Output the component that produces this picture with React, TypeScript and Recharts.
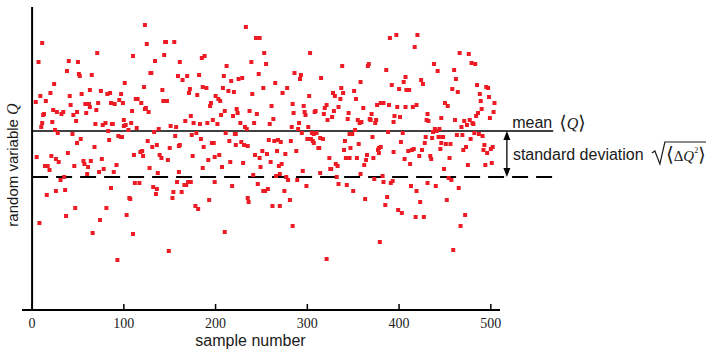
import { ScatterChart, Scatter, XAxis, YAxis, ReferenceLine } from 'recharts'

// sample number of each plotted point
const sampleNo = [
  123, 11, 125, 71, 110, 7, 40, 50, 38, 51, 52, 65, 129, 24, 101, 122, 9, 20, 41, 54,
  63, 75, 82, 85, 97, 4, 15, 42, 58, 62, 63, 72, 86, 90, 95, 99, 113, 115, 119, 123,
  124, 127, 23, 27, 13, 12, 32, 34, 45, 49, 59, 70, 109, 48, 22, 11, 10, 69, 77, 80,
  87, 88, 100, 100, 102, 108, 114, 25, 28, 83, 44, 94, 97, 98, 105, 53, 49, 84, 126, 68,
  5, 21, 26, 29, 39, 14, 17, 19, 46, 56, 57, 61, 64, 76, 60, 73, 78, 89, 92, 111,
  118, 120, 121, 128, 35, 31, 112, 117, 16, 26, 36, 86, 106, 107, 47, 81, 37, 74, 103, 8,
  66, 110, 93,
  233, 145, 146, 155, 244, 248, 253, 144, 161, 134, 185, 188, 212, 239, 130, 159, 164, 169, 182, 209,
  217, 225, 229, 247, 142, 172, 171, 180, 186, 190, 208, 214, 220, 240, 252, 200, 203, 205, 143, 147,
  195, 194, 223, 224, 210, 206, 219, 237, 245, 173, 167, 176, 183, 191, 197, 202, 227, 242, 151, 157,
  138, 133, 232, 234, 211, 221, 222, 179, 156, 174, 184, 136, 161, 198, 215, 222, 228, 231, 131, 150,
  160, 187, 196, 235, 139, 141, 148, 175, 192, 199, 204, 216, 207, 186, 230, 243, 248, 251, 249, 137,
  160, 241, 158, 166, 168, 170, 173, 199, 218, 246, 252, 132, 136, 135, 154, 163, 153, 193, 235, 236,
  178, 181, 210, 149,
  303, 255, 338, 367, 366, 286, 293, 292, 315, 265, 278, 273, 302, 337, 328, 330, 339, 351, 358, 336,
  353, 261, 284, 296, 321, 319, 334, 361, 376, 285, 297, 298, 309, 308, 318, 329, 345, 370, 327, 322,
  344, 355, 357, 359, 368, 369, 375, 374, 263, 291, 259, 283, 301, 290, 352, 294, 305, 307, 310, 346,
  349, 258, 264, 268, 271, 282, 300, 304, 306, 307, 314, 317, 341, 371, 356, 312, 313, 256, 267, 276,
  288, 260, 269, 272, 324, 340, 347, 342, 346, 354, 365, 372, 364, 362, 377, 378, 331, 333, 325, 326,
  314, 295, 266, 270, 277, 279, 289, 332, 358, 373, 299, 334, 343, 254, 257, 275, 350, 281, 363, 262,
  270, 284, 379, 321,
  390, 397, 420, 417, 466, 476, 438, 479, 483, 386, 442, 460, 407, 424, 462, 405, 426, 392, 485, 495,
  497, 400, 408, 411, 458, 464, 488, 498, 380, 383, 389, 398, 407, 415, 419, 450, 453, 489, 504, 490,
  486, 503, 431, 395, 401, 484, 446, 394, 430, 432, 461, 471, 477, 499, 480, 481, 474, 468, 439, 444,
  437, 441, 388, 404, 463, 469, 482, 487, 491, 429, 436, 443, 447, 448, 478, 402, 428, 446, 451, 456,
  493, 378, 380, 394, 410, 414, 416, 425, 445, 470, 473, 492, 496, 500, 502, 422, 434, 435, 455, 406,
  412, 475, 494, 501, 449, 382, 383, 393, 391, 454, 457, 431, 413, 440, 465, 419, 387, 385, 423, 452,
  399, 403, 418, 427, 472, 467, 459,
]

// random variable Q (arbitrary units) for each sample above
const qValue = [
  285, 267, 266, 257, 254, 248, 249, 248, 239, 236, 234, 235, 237, 226, 227, 223, 214, 217, 214, 216,
  220, 219, 216, 217, 216, 208, 209, 205, 206, 206, 203, 207, 207, 206, 210, 207, 211, 211, 207, 201,
  202, 198, 200, 198, 196, 195, 196, 198, 195, 198, 197, 200, 199, 189, 188, 187, 183, 186, 185, 187,
  186, 186, 190, 184, 185, 187, 182, 180, 177, 179, 176, 174, 173, 173, 180, 171, 167, 170, 169, 163,
  153, 154, 151, 148, 157, 144, 144, 140, 144, 149, 146, 143, 149, 151, 136, 138, 141, 138, 145, 155,
  158, 159, 154, 142, 133, 130, 127, 127, 115, 119, 120, 122, 112, 111, 102, 102, 94, 90, 95, 87,
  77, 76, 50,
  283, 268, 268, 268, 272, 272, 257, 255, 248, 249, 252, 254, 244, 248, 237, 234, 230, 234, 235, 234,
  229, 231, 232, 236, 220, 221, 217, 215, 223, 222, 222, 219, 218, 216, 222, 214, 211, 209, 209, 209,
  207, 204, 201, 197, 199, 195, 194, 199, 196, 194, 189, 187, 186, 187, 190, 186, 187, 187, 184, 183,
  181, 178, 183, 181, 177, 176, 176, 177, 174, 175, 171, 165, 165, 167, 169, 165, 168, 165, 163, 162,
  164, 163, 167, 164, 155, 152, 150, 154, 150, 153, 155, 148, 143, 142, 147, 155, 152, 159, 143, 137,
  138, 135, 128, 125, 125, 128, 128, 128, 124, 126, 119, 123, 121, 116, 118, 118, 112, 110, 112, 108,
  104, 101, 78, 59,
  257, 246, 244, 246, 244, 237, 235, 231, 232, 227, 222, 217, 214, 222, 217, 214, 217, 219, 228, 211,
  211, 204, 206, 204, 205, 202, 203, 202, 205, 197, 198, 195, 199, 198, 196, 199, 197, 196, 193, 190,
  191, 190, 187, 188, 191, 190, 190, 187, 191, 187, 186, 183, 183, 181, 180, 177, 177, 176, 177, 176,
  176, 170, 169, 170, 168, 169, 171, 171, 169, 167, 172, 171, 169, 173, 166, 162, 162, 156, 159, 156,
  159, 148, 144, 146, 152, 160, 162, 152, 152, 152, 155, 152, 150, 145, 160, 157, 146, 144, 141, 141,
  137, 139, 134, 136, 133, 130, 130, 133, 136, 131, 124, 126, 125, 119, 121, 119, 119, 110, 111, 104,
  104, 84, 68, 51,
  272, 275, 275, 263, 257, 256, 246, 247, 246, 240, 239, 240, 233, 230, 231, 228, 226, 225, 225, 223,
  222, 221, 220, 220, 221, 218, 216, 213, 207, 207, 205, 203, 203, 203, 205, 207, 204, 209, 207, 201,
  197, 198, 196, 194, 193, 194, 192, 188, 190, 189, 190, 189, 190, 192, 187, 186, 185, 183, 181, 181,
  178, 179, 178, 177, 175, 175, 177, 176, 174, 173, 172, 173, 173, 173, 171, 168, 167, 167, 166, 166,
  165, 162, 163, 158, 159, 160, 161, 160, 161, 160, 163, 160, 157, 161, 163, 154, 154, 151, 152, 151,
  146, 145, 145, 147, 141, 134, 128, 129, 127, 132, 130, 127, 124, 124, 122, 119, 113, 105, 108, 110,
  100, 97, 93, 93, 95, 84, 60,
]

const xTicks = [0, 100, 200, 300, 400, 500]
const meanQ = 179
const lowerQ = 133 // mean minus one standard deviation

const data = sampleNo.map((n, i) => ({ n, q: qValue[i] }))

const RED = '#ed1c24'
const INK = '#1a1a1a'
const SANS = "'Liberation Sans', Arial, sans-serif"
const SERIF = "'Liberation Serif', 'Times New Roman', serif"

function Dot(props: any) {
  const { cx, cy } = props
  return <rect x={cx - 2} y={cy - 2} width={4} height={4} fill={RED} />
}

function Tick({ x, y, payload }: any) {
  return (
    <g>
      <line x1={x} x2={x} y1={y - 6} y2={y} stroke="#000" strokeWidth={1.5} />
      <text x={x} y={y + 17.5} textAnchor="middle" fontFamily={SERIF} fontSize={14} fill="#222">
        {payload.value}
      </text>
    </g>
  )
}

function XTitle({ viewBox }: any) {
  return (
    <text x={viewBox.x + viewBox.width / 2 - 10.5} y={viewBox.y + 36} textAnchor="middle"
      fontFamily={SANS} fontSize={16} fill={INK}>
      sample number
    </text>
  )
}

function YTitle({ viewBox }: any) {
  const x = viewBox.x - 14
  const y = viewBox.y + viewBox.height / 2 + 6.5
  return (
    <text x={x} y={y} transform={`rotate(-90 ${x} ${y})`} textAnchor="middle"
      fontFamily={SANS} fontSize={15} fill={INK}>
      random variable <tspan fontFamily={SERIF} fontStyle="italic" fontSize={16}>Q</tspan>
    </text>
  )
}

function MeanLabel({ viewBox }: any) {
  const x = viewBox.x + viewBox.width - 41
  const y = viewBox.y - 3
  return (
    <g fill={INK}>
      <text x={x} y={y} fontFamily={SANS} fontSize={16}>mean</text>
      <text x={x + 47} y={y + 1} fontFamily={SERIF} fontSize={16}>
        <tspan fontFamily="'DejaVu Serif', serif" fontSize={19}>⟨</tspan>
        <tspan fontStyle="italic">Q</tspan>
        <tspan fontFamily="'DejaVu Serif', serif" fontSize={19}>⟩</tspan>
      </text>
    </g>
  )
}

function SdLabel({ viewBox }: any) {
  const x = viewBox.x + 6
  const top = viewBox.y
  const base = top + 28.5
  const r = x + 139
  return (
    <g>
      <text x={x} y={base} fontFamily={SANS} fontSize={16} fill={INK}>standard deviation</text>
      <path d={`M${r} ${top + 22} L${r + 3} ${top + 20} L${r + 8} ${top + 33} L${r + 13} ${top + 11} L${r + 70} ${top + 11}`}
        fill="none" stroke={INK} strokeWidth={1.2} />
      <text x={r + 14} y={base + 1} fontFamily={SERIF} fontSize={15} fill={INK}>
        <tspan fontFamily="'DejaVu Serif', serif" fontSize={20}>⟨</tspan>
        <tspan>Δ</tspan>
        <tspan fontStyle="italic">Q</tspan>
        <tspan fontSize={8} dy={-8}>2</tspan>
        <tspan fontFamily="'DejaVu Serif', serif" fontSize={19} dy={8}>⟩</tspan>
      </text>
    </g>
  )
}

function SdArrow({ x1, y1, y2 }: any) {
  const top = Math.min(y1, y2)
  const bot = Math.max(y1, y2)
  return (
    <g>
      <line x1={x1} x2={x1} y1={top + 6} y2={bot - 6} stroke="#000" strokeWidth={1.3} />
      <path d={`M${x1} ${top} L${x1 - 3.5} ${top + 9} L${x1 + 3.5} ${top + 9} Z`} fill="#000" />
      <path d={`M${x1} ${bot} L${x1 - 3.5} ${bot - 9} L${x1 + 3.5} ${bot - 9} Z`} fill="#000" />
    </g>
  )
}

export default function App() {
  return (
    <div style={{ position: 'absolute', left: 0, top: 0, width: 706, height: 349, background: '#fff' }}>
      <ScatterChart width={706} height={349} margin={{ top: 7, right: 206, bottom: 0, left: 22 }}>
        <XAxis
          type="number"
          dataKey="n"
          domain={[-11, 510]}
          allowDataOverflow
          ticks={xTicks}
          interval={0}
          height={39}
          tickSize={0}
          tickMargin={0}
          tickLine={false}
          tick={<Tick />}
          axisLine={{ stroke: '#000', strokeWidth: 2 }}
          label={<XTitle />}
        />
        <YAxis type="number" dataKey="q" domain={[0, 303]} allowDataOverflow hide />
        <ReferenceLine x={0} stroke="#000" strokeWidth={2} label={<YTitle />} />
        <ReferenceLine
          segment={[{ x: 0, y: meanQ }, { x: 568, y: meanQ }]}
          ifOverflow="visible"
          stroke="#000"
          strokeWidth={1.5}
          label={<MeanLabel />}
        />
        <ReferenceLine
          segment={[{ x: 0, y: lowerQ }, { x: 568, y: lowerQ }]}
          ifOverflow="visible"
          stroke="#000"
          strokeWidth={1.8}
          strokeDasharray="16 8"
        />
        <ReferenceLine
          segment={[{ x: 517.5, y: meanQ }, { x: 517.5, y: lowerQ }]}
          ifOverflow="visible"
          shape={<SdArrow />}
          label={<SdLabel />}
        />
        <Scatter data={data} dataKey="q" shape={<Dot />} isAnimationActive={false} />
      </ScatterChart>
    </div>
  )
}
